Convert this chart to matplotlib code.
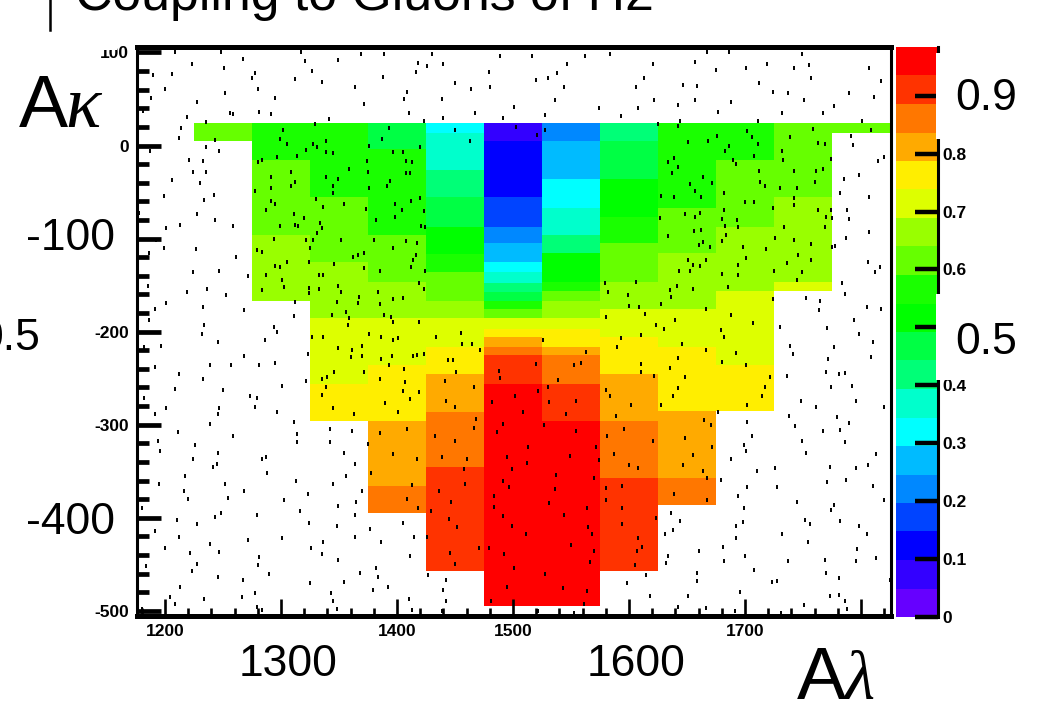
#!/usr/bin/env python3

import numpy as np
import matplotlib
matplotlib.use('Agg')
import matplotlib.pyplot as plt
from matplotlib.colors import ListedColormap, BoundaryNorm
from matplotlib.patches import Rectangle
from matplotlib.ticker import MultipleLocator

W, H = 1037, 712

# Palette, bottom of the colour bar to the top
band_colors = ['#6600ff', '#3300ff', '#0000ff', '#0044ff', '#0088ff', '#00bbff', '#00ffff',
               '#00ffcc', '#00ff77', '#00ff44', '#00ff00', '#1aff00', '#66ff00', '#99ff00',
               '#ddff00', '#ffee00', '#ffaa00', '#ff7700', '#ff3300', '#ff0000']
band_edges = [0, 0.049, 0.098, 0.148, 0.197, 0.246, 0.295, 0.344, 0.394, 0.443, 0.492,
              0.541, 0.590, 0.640, 0.689, 0.738, 0.787, 0.836, 0.886, 0.935, 0.984]

# Bin edges along A_lambda
x_edges = [1225, 1275, 1325, 1375, 1425, 1475, 1525, 1575, 1625, 1675, 1725, 1775, 1825]

# One column per A_lambda bin: edges along A_kappa and the value between them
col_1_y = [24, 5]
col_1_z = [.62]
col_2_y = [24, -16, -96, -167]
col_2_z = [.57, .62, .66]
col_3_y = [24, -55, -125, -185, -256, -296]
col_3_z = [.57, .62, .66, .71, .76]
col_4_y = [24, -4, -96, -147, -185, -236, -296, -366, -395]
col_4_z = [.47, .57, .62, .66, .71, .76, .81, .86]
col_5_y = [24, 13, -26, -55, -88, -117, -136, -167, -185, -217, -246, -286, -346, -457]
col_5_z = [.32, .37, .42, .47, .52, .57, .62, .66, .71, .76, .81, .86, .91]
col_6_y = [24, 5, -55, -88, -105, -125, -136, -148, -157, -167, -176, -185, -197, -206, -217, -225, -256, -495]
col_6_z = [.07, .12, .17, .22, .27, .32, .37, .42, .47, .57, .62, .71, .76, .81, .86, .91, .96]
col_7_y = [24, 5, -36, -67, -96, -116, -147, -156, -167, -185, -197, -217, -225, -256, -296, -495]
col_7_z = [.22, .27, .32, .37, .42, .52, .57, .62, .66, .71, .76, .81, .86, .91, .96]
col_8_y = [24, 5, -36, -77, -105, -147, -176, -206, -246, -296, -357, -457]
col_8_z = [.42, .47, .52, .57, .62, .66, .71, .76, .81, .86, .91]
col_9_y = [24, -67, -116, -176, -217, -285, -357, -386]
col_9_z = [.57, .62, .66, .71, .76, .81, .86]
col_10_y = [24, -16, -88, -156, -236, -285]
col_10_z = [.57, .62, .66, .71, .76]
col_11_y = [24, -55, -147, -156]
col_11_z = [.62, .66, .71]
col_12_y = [24, 13]
col_12_z = [.62]

# Scan points, left half then right half, top to bottom
scan_upper_left = [
    (1209, 101), (1248, 101), (1317, 100), (1321, 91), (1369, 98), (1389, 98), (1430, 98), (1489, 96), (1223, 88),
    (1267, 93), (1349, 92), (1418, 89), (1426, 86), (1440, 88), (1251, 83), (1206, 77), (1190, 76), (1278, 78),
    (1275, 73), (1312, 72), (1327, 80), (1335, 68), (1388, 74), (1416, 79), (1479, 79), (1200, 61), (1280, 61),
    (1364, 63), (1409, 58), (1450, 67), (1464, 61), (1480, 63), (1252, 57), (1188, 51), (1295, 51), (1228, 47),
    (1372, 45), (1406, 50), (1439, 50), (1501, 41), (1181, 37), (1256, 35), (1259, 34), (1281, 36), (1291, 34),
    (1410, 35), (1467, 35), (1219, 31), (1341, 28), (1440, 30), (1491, 30), (1423, 26), (1235, 25),
    (1214, 19), (1302, 17), (1329, 23), (1393, 19), (1450, 17), (1503, 20), (1212, 8), (1243, 6), (1299, 7),
    (1305, 2), (1339, 5), (1387, 7), (1463, 5), (1235, -2), (1187, -6), (1247, -6), (1328, 2), (1331, -2),
    (1322, -5), (1376, -1), (1420, -2), (1339, -7), (1345, -8), (1397, -7), (1405, -7), (1297, -12), (1314, -11),
    (1221, -16), (1233, -17), (1284, -16), (1280, -18), (1374, -17), (1408, -17), (1413, -18), (1224, -28),
    (1235, -28), (1309, -28), (1359, -25), (1375, -28), (1408, -30), (1411, -30), (1291, -34), (1339, -34),
    (1349, -36), (1206, -37), (1230, -40), (1312, -39), (1309, -44), (1345, -43), (1394, -38), (1391, -44),
    (1278, -49), (1291, -46), (1376, -46), (1199, -54), (1242, -53), (1345, -51), (1234, -58), (1330, -57),
    (1291, -60), (1295, -63), (1354, -63), (1398, -63), (1412, -60), (1420, -56), (1336, -66), (1287, -69),
    (1373, -68), (1404, -69), (1178, -73), (1228, -74), (1311, -74), (1320, -78), (1398, -77), (1423, -70),
    (1243, -80), (1382, -80), (1334, -83), (1312, -85), (1315, -87), (1213, -85), (1259, -86), (1299, -87),
    (1335, -89), (1421, -86), (1424, -88), (1201, -89), (1331, -94), (1294, -100), (1192, -102), (1322, -102),
    (1328, -102), (1352, -102), (1380, -102), (1408, -103), (1417, -105), (1325, -110), (1199, -110), (1397, -110),
    (1227, -111), (1279, -112), (1284, -114), (1186, -115), (1372, -115), (1362, -120), (1366, -118), (1416, -118),
    (1261, -120), (1414, -123), (1305, -125), (1324, -125), (1346, -127), (1295, -129), (1299, -131), (1412, -131),
    (1372, -132), (1247, -135), (1224, -136), (1272, -140), (1287, -139), (1333, -139), (1336, -139), (1385, -135),
    (1424, -135), (1301, -144), (1185, -151), (1303, -152), (1349, -151), (1419, -148), (1352, -157), (1236, -154),
    (1324, -153), (1333, -154), (1284, -155), (1423, -154), (1219, -157), (1324, -158), (1253, -161), (1384, -157),
    (1367, -163), (1397, -165), (1405, -164), (1201, -169), (1312, -168), (1348, -168), (1366, -169), (1385, -170),
    (1233, -174), (1191, -176), (1268, -177), (1356, -179), (1344, -182), (1389, -182), (1395, -184), (1311, -183),
    (1359, -185), (1186, -187), (1397, -190), (1358, -193), (1419, -190), (1234, -193), (1294, -195), (1297, -200),
    (1455, -201), (1232, -203), (1376, -203), (1434, -206), (1327, -206), (1336, -206), (1386, -206), (1397, -209),
    (1401, -207), (1286, -209), (1246, -211), (1456, -213), (1465, -213), (1370, -215), (1197, -215), (1349, -218),
    (1182, -217), (1361, -220), (1472, -220), (1417, -225), (1323, -224), (1268, -226), (1370, -226), (1396, -226),
    (1414, -226), (1423, -224),
]
scan_upper_right = [
    (1516, 96), (1547, 88), (1562, 96), (1584, 98), (1621, 88), (1657, 90), (1667, 100), (1686, 100), (1749, 98),
    (1755, 87), (1719, 88), (1701, 83), (1675, 81), (1742, 83), (1807, 83), (1538, 78), (1530, 73), (1520, 70),
    (1613, 73), (1757, 73), (1817, 69), (1544, 63), (1606, 63), (1647, 65), (1659, 64), (1712, 67), (1724, 58),
    (1737, 57), (1790, 57), (1536, 49), (1622, 49), (1657, 49), (1688, 47), (1751, 49), (1811, 52), (1574, 40),
    (1608, 40), (1642, 44), (1777, 42), (1677, 36), (1732, 35), (1767, 35), (1528, 33), (1593, 32), (1644, 26),
    (1711, 26), (1801, 26), (1625, 23), (1642, 21), (1528, 17), (1809, 17), (1759, 18), (1702, 16), (1521, 11),
    (1706, 9), (1739, 9), (1791, 10), (1668, 5), (1676, 10), (1651, 4), (1711, 2), (1763, 3), (1769, 2), (1793, 1),
    (1686, -1), (1683, -6), (1732, -6), (1708, -11), (1639, -13), (1634, -18), (1642, -23), (1690, -16), (1692, -20),
    (1733, -16), (1774, -14), (1815, -17), (1820, -12), (1712, -27), (1742, -27), (1761, -27), (1767, -25),
    (1637, -30), (1664, -34), (1798, -32), (1785, -36), (1672, -40), (1713, -39), (1760, -39), (1653, -41),
    (1717, -44), (1745, -46), (1730, -46), (1657, -49), (1682, -51), (1782, -51), (1628, -54), (1639, -55),
    (1662, -55), (1742, -56), (1807, -55), (1700, -61), (1708, -61), (1742, -64), (1724, -67), (1682, -69),
    (1763, -69), (1774, -69), (1788, -69), (1661, -72), (1648, -74), (1657, -77), (1770, -77), (1775, -78),
    (1627, -78), (1680, -79), (1693, -80), (1790, -79), (1683, -86), (1694, -88), (1734, -88), (1769, -88),
    (1656, -92), (1662, -91), (1807, -93), (1684, -96), (1634, -97), (1726, -99), (1787, -99), (1680, -103),
    (1742, -101), (1664, -104), (1660, -107), (1757, -106), (1670, -109), (1698, -109), (1775, -109), (1778, -108),
    (1718, -111), (1746, -118), (1701, -121), (1757, -123), (1651, -123), (1666, -123), (1655, -128), (1661, -129),
    (1694, -128), (1736, -126), (1806, -125), (1816, -131), (1812, -136), (1643, -135), (1653, -135), (1680, -138),
    (1694, -139), (1725, -135), (1749, -136), (1745, -145), (1579, -148), (1606, -147), (1784, -148), (1641, -151),
    (1582, -157), (1655, -154), (1685, -152), (1635, -155), (1599, -161), (1786, -160), (1636, -163), (1724, -165),
    (1753, -164), (1765, -167), (1600, -172), (1609, -174), (1628, -170), (1666, -176), (1764, -177), (1805, -173),
    (1817, -176), (1614, -181), (1580, -184), (1688, -182), (1640, -187), (1794, -187), (1707, -191), (1623, -193),
    (1730, -195), (1771, -196), (1630, -197), (1679, -198), (1798, -203), (1610, -204), (1682, -206), (1593, -207),
    (1526, -209), (1810, -211), (1646, -213), (1739, -215), (1590, -216), (1777, -216), (1563, -222), (1666, -220),
    (1692, -223), (1741, -224), (1642, -228), (1809, -227), (1772, -229),
]
scan_lower_left = [
    (1444, -231), (1448, -231), (1393, -236), (1360, -227), (1386, -229), (1191, -238), (1239, -236), (1257, -236),
    (1281, -236), (1295, -234), (1212, -246), (1406, -240), (1451, -243), (1346, -243), (1372, -243), (1233, -251),
    (1335, -251), (1340, -249), (1385, -251), (1322, -253), (1441, -253), (1407, -254), (1488, -242), (1489, -250),
    (1301, -258), (1339, -260), (1466, -259), (1209, -262), (1250, -263), (1405, -264), (1419, -265), (1502, -269),
    (1273, -269), (1279, -271), (1182, -271), (1335, -268), (1411, -272), (1482, -276), (1442, -275), (1390, -277),
    (1247, -282), (1278, -281), (1201, -282), (1450, -281), (1345, -282), (1297, -286), (1401, -286), (1246, -289),
    (1191, -289), (1363, -289), (1468, -294), (1311, -297), (1239, -299), (1491, -299), (1466, -304), (1486, -308),
    (1211, -308), (1342, -305), (1361, -307), (1385, -309), (1409, -305), (1314, -310), (1259, -312), (1433, -312),
    (1194, -317), (1450, -318), (1314, -319), (1342, -319), (1375, -321), (1226, -322), (1196, -328), (1354, -330),
    (1246, -330), (1397, -331), (1287, -335), (1284, -337), (1224, -337), (1417, -337), (1439, -335), (1460, -337),
    (1495, -335), (1245, -342), (1364, -342), (1241, -346), (1458, -348), (1499, -348), (1288, -352), (1378, -352),
    (1217, -355), (1356, -355), (1313, -360), (1491, -360), (1252, -364), (1195, -364), (1345, -364), (1413, -365),
    (1459, -364), (1497, -367), (1268, -371), (1216, -371), (1370, -371), (1436, -371), (1323, -374), (1484, -377),
    (1254, -379), (1220, -380), (1303, -381), (1409, -380), (1365, -383), (1447, -383), (1180, -389), (1349, -387),
    (1418, -389), (1484, -388), (1316, -393), (1429, -393), (1248, -395), (1243, -399), (1279, -397), (1364, -397),
    (1491, -398), (1445, -401), (1210, -402), (1324, -406), (1228, -407), (1405, -406), (1348, -409), (1452, -410),
    (1499, -409), (1191, -414), (1377, -412), (1212, -421), (1301, -422), (1364, -421), (1415, -421), (1426, -421),
    (1272, -424), (1336, -426), (1386, -426), (1239, -428), (1471, -432), (1326, -433), (1200, -433), (1479, -433),
    (1222, -438), (1247, -437), (1335, -439), (1446, -438), (1492, -439), (1411, -441), (1281, -442), (1349, -445),
    (1228, -450), (1280, -451), (1450, -450), (1184, -452), (1382, -454), (1501, -454), (1223, -457), (1368, -459),
    (1290, -461), (1384, -464), (1246, -464), (1427, -462), (1442, -467), (1354, -469), (1267, -467), (1325, -470),
    (1213, -474), (1392, -474), (1495, -474), (1379, -478), (1440, -478), (1343, -481), (1278, -481), (1266, -485),
    (1204, -485), (1234, -487), (1410, -487), (1345, -489), (1442, -490), (1481, -490), (1209, -493), (1279, -496),
    (1348, -498), (1284, -499), (1413, -499), (1439, -500), (1180, -498),
]
scan_lower_right = [
    (1520, -235), (1553, -236), (1559, -234), (1610, -235), (1610, -243), (1680, -233), (1701, -236), (1635, -239),
    (1648, -249), (1622, -248), (1539, -252), (1770, -243), (1781, -246), (1786, -244), (1736, -248), (1722, -249),
    (1530, -260), (1642, -261), (1717, -260), (1774, -260), (1792, -258), (1580, -263), (1522, -264), (1584, -269),
    (1638, -269), (1715, -269), (1796, -275), (1748, -275), (1531, -276), (1554, -275), (1602, -279), (1628, -279),
    (1702, -279), (1761, -281), (1820, -281), (1509, -286), (1546, -289), (1677, -286), (1589, -291), (1665, -295),
    (1738, -291), (1779, -292), (1527, -300), (1671, -300), (1702, -297), (1743, -301), (1790, -298), (1596, -305),
    (1554, -307), (1782, -306), (1767, -307), (1581, -312), (1706, -312), (1648, -314), (1749, -317), (1621, -318),
    (1786, -319), (1699, -322), (1513, -324), (1572, -324), (1672, -324), (1701, -328), (1753, -330), (1813, -331),
    (1587, -331), (1549, -334), (1655, -333), (1688, -337), (1574, -338), (1512, -341), (1647, -343), (1600, -343),
    (1608, -347), (1773, -345), (1806, -343), (1796, -347), (1726, -347), (1664, -350), (1710, -350), (1537, -354),
    (1570, -357), (1667, -357), (1679, -359), (1787, -359), (1771, -362), (1536, -369), (1594, -366), (1580, -368),
    (1702, -367), (1728, -367), (1810, -366), (1639, -375), (1694, -377), (1580, -381), (1667, -381), (1820, -381),
    (1745, -383), (1531, -384), (1777, -386), (1774, -392), (1594, -390), (1699, -389), (1564, -390), (1636, -395),
    (1544, -397), (1623, -400), (1752, -402), (1644, -403), (1782, -403), (1594, -407), (1756, -407), (1692, -409),
    (1698, -405), (1565, -410), (1798, -409), (1638, -413), (1631, -417), (1511, -417), (1732, -417), (1568, -418),
    (1805, -418), (1608, -422), (1692, -422), (1754, -426), (1550, -429), (1611, -431), (1681, -431), (1607, -436),
    (1570, -436), (1797, -434), (1660, -436), (1634, -441), (1700, -441), (1769, -445), (1813, -443), (1566, -448),
    (1632, -449), (1682, -447), (1737, -447), (1796, -447), (1605, -451), (1708, -456), (1770, -459), (1659, -459),
    (1528, -461), (1615, -462), (1781, -465), (1659, -468), (1723, -469), (1728, -468), (1598, -470), (1825, -467),
    (1543, -475), (1564, -479), (1696, -480), (1618, -484), (1651, -484), (1773, -484), (1781, -483), (1786, -489),
    (1561, -493), (1751, -494), (1642, -496), (1666, -497), (1788, -498), (1522, -500), (1553, -502), (1691, -500),
    (1731, -502),
]

x_major_labels = {1200: '1200', 1400: '1400', 1500: '1500', 1700: '1700'}
y_major_labels = {100: '100', 0: '0', -200: '-200', -300: '-300', -500: '-500'}
z_ticks = [0, .1, .2, .3, .4, .5, .6, .7, .8, .9]
z_labels = ['0', '0.1', '0.2', '0.3', '0.4', '', '0.6', '0.7', '0.8', '']

SANS = 'Liberation Sans'


def px_text(fig, x, y, s, **kw):
    # place text by pixel position measured from the top left
    kw.setdefault('family', SANS)
    kw.setdefault('color', 'black')
    return fig.text(x / W, 1 - y / H, s, **kw)


def px_box(fig, x0, y0, x1, y1):
    fig.add_artist(Rectangle((x0 / W, 1 - y1 / H), (x1 - x0) / W, (y1 - y0) / H,
                             transform=fig.transFigure, facecolor='white', edgecolor='none', zorder=2))


def main():
    fig = plt.figure(figsize=(W / 100, H / 100), dpi=100)
    ax = fig.add_axes([137 / W, 1 - 616 / H, 754 / W, 569 / H])

    cmap = ListedColormap(band_colors)
    norm = BoundaryNorm(band_edges, cmap.N)

    columns = [(col_1_y, col_1_z), (col_2_y, col_2_z), (col_3_y, col_3_z), (col_4_y, col_4_z),
               (col_5_y, col_5_z), (col_6_y, col_6_z), (col_7_y, col_7_z), (col_8_y, col_8_z),
               (col_9_y, col_9_z), (col_10_y, col_10_z), (col_11_y, col_11_z), (col_12_y, col_12_z)]
    mesh = None
    for i, (ys, zs) in enumerate(columns):
        mesh = ax.pcolormesh(x_edges[i:i + 2], ys, np.array(zs)[:, None], cmap=cmap, norm=norm)

    scan = scan_upper_left + scan_upper_right + scan_lower_left + scan_lower_right
    scan_x = [p[0] for p in scan]
    scan_y = [p[1] for p in scan]
    ax.plot(scan_x, scan_y, linestyle='none', marker='|', color='black', ms=3.2, mew=1.4)

    ax.set_xlim(1175.9, 1825.9)
    ax.set_ylim(-505.6, 105.9)

    ax.xaxis.set_minor_locator(MultipleLocator(20))
    ax.yaxis.set_minor_locator(MultipleLocator(20))
    ax.set_xticks(sorted(x_major_labels) + [1300, 1600, 1800])
    ax.set_yticks(sorted(y_major_labels) + [-100, -400])
    small = dict(family=SANS, fontsize=12.5, weight='bold')
    ax.set_xticklabels([x_major_labels.get(int(t), '') for t in ax.get_xticks()], **small)
    ax.set_yticklabels([y_major_labels.get(int(t), '') for t in ax.get_yticks()], **small)
    ax.tick_params(axis='x', which='major', direction='in', length=12, width=1.9, pad=6)
    ax.tick_params(axis='x', which='minor', direction='in', length=6, width=1.9)
    ax.tick_params(axis='y', which='major', direction='in', length=17, width=3.4, pad=6)
    ax.tick_params(axis='y', which='minor', direction='in', length=8.6, width=3.4)
    for name, lw in [('top', 3.6), ('bottom', 3.6), ('left', 2.2), ('right', 2.2)]:
        ax.spines[name].set_linewidth(lw)

    cax = fig.add_axes([895.5 / W, 1 - 617 / H, 42.5 / W, 570 / H])
    cbar = fig.colorbar(mesh, cax=cax, ticks=z_ticks, spacing='proportional')
    cbar.outline.set_visible(False)
    cax.set_yticklabels(z_labels, **small)
    cax.tick_params(axis='y', which='major', direction='in', length=16.5, width=3.2, pad=3.5)
    cax.tick_params(axis='y', which='minor', length=0)
    cax.axvline(1, color='black', lw=2.2, clip_on=False)

    # white boxes sitting over the colour bar axis and the top label
    px_box(fig, 936, 53, W, 139)
    px_box(fig, 936, 294, W, 380)
    px_box(fig, 100, 36, 117, 50)

    # title runs off the top of the picture
    px_text(fig, 75, 10, 'Coupling to Gluons of H2', fontsize=37.4, ha='left', va='baseline', zorder=3)
    fig.add_artist(plt.Line2D([50 / W, 50 / W], [1 - 30 / H, 1], color='black', lw=1.8,
                              transform=fig.transFigure))

    big = dict(fontsize=32, va='center', zorder=3)
    px_text(fig, 115, 239, '-100', ha='right', **big)
    px_text(fig, 115, 522, '-400', ha='right', **big)
    px_text(fig, 288, 665, '1300', ha='center', **big)
    px_text(fig, 636, 665, '1600', ha='center', **big)
    px_text(fig, 986, 98, '0.9', ha='center', **big)
    px_text(fig, 986, 343, '0.5', ha='center', **big)
    px_text(fig, 40, 339, '0.5', ha='right', **big)

    px_text(fig, 19, 127, 'A', fontsize=53, ha='left', va='baseline', zorder=3)
    px_text(fig, 65, 127, '\u03ba', family='Liberation Serif', style='italic', fontsize=53, ha='left', va='baseline', zorder=3)
    px_text(fig, 797, 699, 'A', fontsize=53, ha='left', va='baseline', zorder=3)
    px_text(fig, 845, 699, '\u03bb', family='Liberation Serif', style='italic', fontsize=50, ha='left', va='baseline', zorder=3)

    fig.savefig('out.png', dpi=100)


if __name__ == '__main__':
    main()
